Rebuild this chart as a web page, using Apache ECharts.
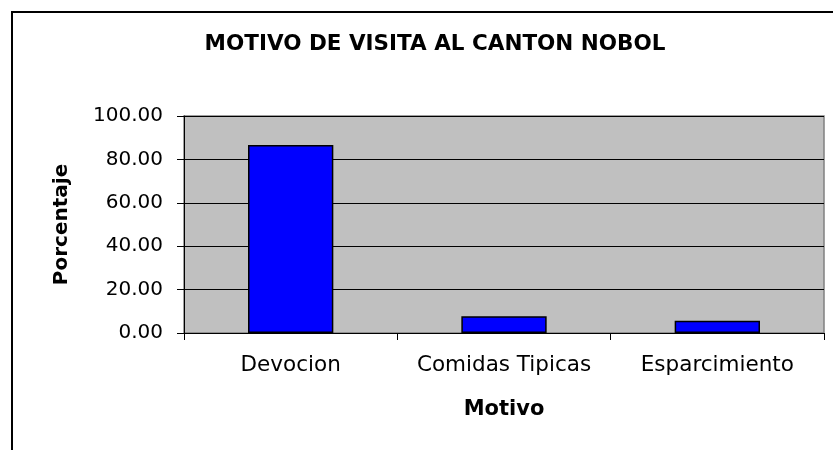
<!DOCTYPE html>
<html>
<head>
<meta charset="utf-8">
<script src="https://cdn.jsdelivr.net/npm/echarts@6/dist/echarts.min.js"></script>
<style>html,body{margin:0;padding:0;background:#fff}#c{width:833px;height:450px}</style>
</head>
<body>
<div id="c"></div>
<script>
const titleText = 'MOTIVO DE VISITA AL CANTON NOBOL';
const categories = ['Devocion', 'Comidas Tipicas', 'Esparcimiento'];
const porcentaje = [86.67, 7.67, 5.67];
const yName = 'Porcentaje';
const xName = 'Motivo';

const FONT = '"DejaVu Sans", "Liberation Sans", Arial, sans-serif';
const chart = echarts.init(document.getElementById('c'), null, {renderer: 'canvas'});
chart.setOption({
  animation: false,
  backgroundColor: '#ffffff',
  title: {
    text: titleText,
    left: 430, top: 28, textAlign: 'center',
    textStyle: {fontFamily: FONT, fontSize: 21.5, fontWeight: 'bold', color: '#000'}
  },
  graphic: [{
    type: 'rect', silent: true, z: 100,
    shape: {x: 12, y: 12, width: 900, height: 500},
    style: {fill: 'none', stroke: '#000', lineWidth: 2}
  }],
  grid: {
    left: 184, top: 116, width: 640, height: 217,
    show: true, backgroundColor: '#C0C0C0', borderColor: '#808080', borderWidth: 1.5
  },
  xAxis: {
    type: 'category', data: categories,
    name: xName, nameLocation: 'middle', nameGap: 66,
    nameTextStyle: {fontFamily: FONT, fontSize: 21, fontWeight: 'bold', color: '#000'},
    axisLine: {lineStyle: {color: '#000', width: 1}},
    axisTick: {show: true, interval: 0, length: 7, lineStyle: {color: '#000'}},
    axisLabel: {interval: 0, fontFamily: FONT, fontSize: 21.5, color: '#000', margin: 21}
  },
  yAxis: {
    type: 'value', min: 0, max: 100, interval: 20,
    name: yName, nameLocation: 'middle', nameGap: 112, nameRotate: 90,
    nameTextStyle: {fontFamily: FONT, fontSize: 20, fontWeight: 'bold', color: '#000'},
    axisLine: {show: true, lineStyle: {color: '#000', width: 1}},
    axisTick: {show: true, length: 7, lineStyle: {color: '#000'}},
    axisLabel: {fontFamily: FONT, fontSize: 20, color: '#000', margin: 21,
      formatter: v => v.toFixed(2)},
    splitLine: {show: true, lineStyle: {color: '#000', width: 1}}
  },
  series: [{
    type: 'bar', data: porcentaje, barWidth: '40%',
    itemStyle: {color: '#0000FF', borderColor: '#000', borderWidth: 1.5}
  }]
});
</script>
</body>
</html>
